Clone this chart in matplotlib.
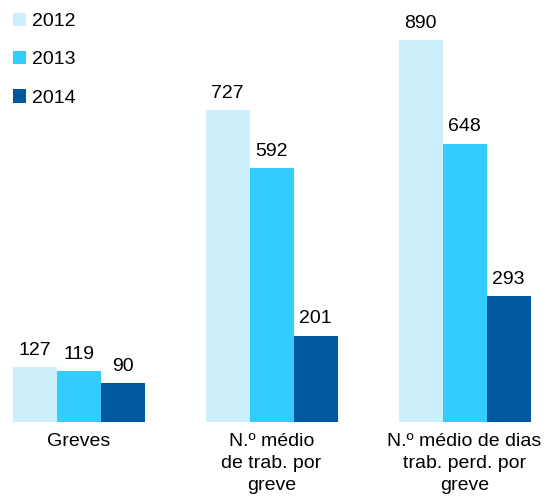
import matplotlib.pyplot as plt
import numpy as np

plt.rcParams['font.family'] = ['Liberation Sans', 'DejaVu Sans']

categories = ['Greves', 'N.º médio\nde trab. por\ngreve', 'N.º médio de dias\ntrab. perd. por\ngreve']
years = ['2012', '2013', '2014']
v2012 = [127, 727, 890]
v2013 = [119, 592, 648]
v2014 = [90, 201, 293]
colors = ['#CCEFFC', '#33CCFF', '#00599E']


def main():
    fig = plt.figure(figsize=(5.5, 4.97), dpi=100)
    ax = fig.add_axes([0, 75 / 497, 1, 422 / 497])

    x = np.arange(len(categories))
    w = 0.228
    series = [v2012, v2013, v2014]
    for i, (vals, yr, c) in enumerate(zip(series, years, colors)):
        bars = ax.bar(x + (i - 1) * w, vals, w, color=c, label=yr)
        ax.bar_label(bars, padding=6, fontsize=14)

    ax.set_xlim(-0.407, 2.443)
    ax.set_ylim(0, 983)
    ax.set_xticks(x)
    ax.set_xticklabels(categories, fontsize=14, linespacing=1.38)
    ax.tick_params(axis='x', length=0, pad=8)
    ax.set_yticks([])
    for s in ax.spines.values():
        s.set_visible(False)

    ax.legend(loc='upper left', bbox_to_anchor=(0.0, 1.0), frameon=False,
              fontsize=14, handlelength=0.7, handleheight=0.7,
              handletextpad=0.3, labelspacing=1.06, borderaxespad=0.35,
              borderpad=0.3)

    fig.savefig('out.png', dpi=100)


if __name__ == "__main__":
    main()
